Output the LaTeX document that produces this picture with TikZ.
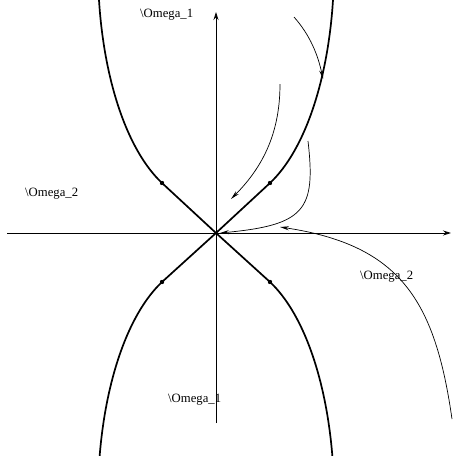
\documentclass[tikz,border=0pt]{standalone}
\usepackage{fontspec}
\setmainfont{Liberation Serif}
\usetikzlibrary{arrows.meta}
\begin{document}
\begin{tikzpicture}[x=1pt,y=-1pt,
  axis/.style={line width=0.8pt,-{Stealth[length=8pt,width=5pt]}},
  sep/.style={line width=1.7pt},
  flow/.style={line width=0.7pt,-{Stealth[length=9pt,width=4pt]}},
  lab/.style={font=\fontsize{12.7}{14}\selectfont,inner sep=0pt,anchor=west},
  dot/.style={circle,fill=black,inner sep=0pt,minimum size=4.4pt}]
\useasboundingbox (0,0) rectangle (453,456);
\clip (0,0) rectangle (453,456);
% axes
\coordinate (O) at (216,233);
\coordinate (xl) at (7,233);
\coordinate (xr) at (451,233);
\coordinate (yb) at (216,423);
\coordinate (yt) at (216,12);
\draw[axis] (xl) -- (xr);
\draw[axis] (yb) -- (yt);
% separatrices
\node[dot] (d1) at (270,183) {};
\node[dot] (d2) at (162,183) {};
\node[dot] (d3) at (270,282) {};
\node[dot] (d4) at (162,282) {};
\draw[sep] (O) -- (d1.center) .. controls (305,150) and (328,80) .. (333,0);
\draw[sep] (O) -- (d2.center) .. controls (127,150) and (104,80) .. (99,0);
\draw[sep] (O) -- (d3.center) .. controls (305,315) and (328,385) .. (333,465);
\draw[sep] (O) -- (d4.center) .. controls (127,315) and (104,385) .. (99,465);
% trajectories
\coordinate (a0) at (294,17);  \coordinate (a1) at (323,79);
\coordinate (b0) at (280,84);  \coordinate (b1) at (231,199);
\coordinate (c0) at (308,141); \coordinate (c1) at (220,233);
\coordinate (e0) at (452,419); \coordinate (e1) at (280,227);
\draw[flow] (a0) .. controls (310,35) and (318,55) .. (a1);
\draw[flow] (b0) .. controls (280,130) and (265,165) .. (b1);
\draw[flow] (c0) .. controls (316,210) and (305,225) .. (c1);
\draw[flow] (e0) .. controls (435,300) and (400,245) .. (e1);
% labels
\node[lab] (L1) at (140,15) {\textbackslash Omega\_1};
\node[lab] (L2) at (25,194) {\textbackslash Omega\_2};
\node[lab] (L3) at (360,277) {\textbackslash Omega\_2};
\node[lab] (L4) at (168,400) {\textbackslash Omega\_1};
\end{tikzpicture}
\end{document}
